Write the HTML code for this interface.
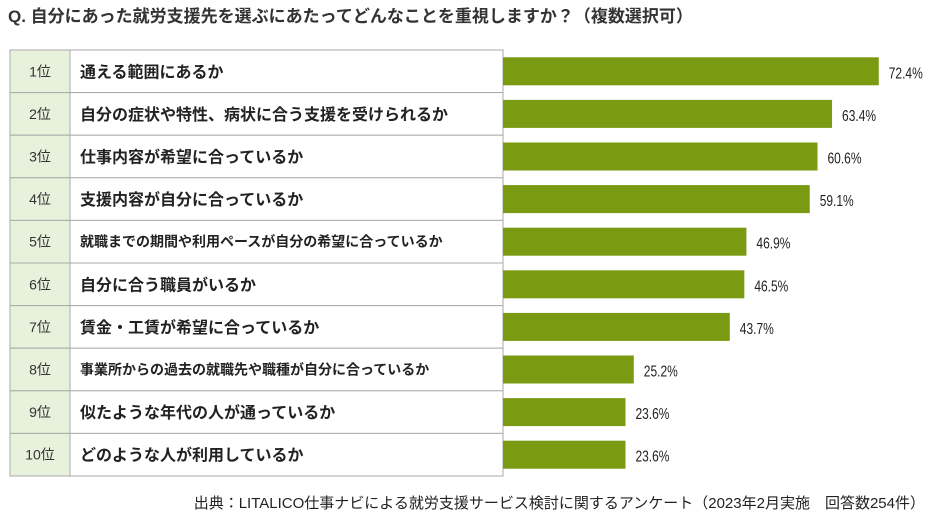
<!DOCTYPE html>
<html><head><meta charset="utf-8">
<style>
body{margin:0;width:931px;height:517px;background:#fff;font-family:"Liberation Sans","Noto Sans CJK JP",sans-serif;position:relative;overflow:hidden}
#title{position:absolute;left:8px;top:2px;font-size:17px;font-weight:bold;color:#333;white-space:nowrap}
#src{position:absolute;right:6px;top:492px;font-size:15px;color:#222;white-space:nowrap}
svg{position:absolute;left:0;top:0}
</style></head><body>
<div id="title">Q. 自分にあった就労支援先を選ぶにあたってどんなことを重視しますか？（複数選択可）</div>
<svg id="chart" width="931" height="517"></svg>
<div id="src">出典：LITALICO仕事ナビによる就労支援サービス検討に関するアンケート（2023年2月実施　回答数254件）</div>
<script>
const ranks=["1位","2位","3位","4位","5位","6位","7位","8位","9位","10位"];
const categories=["通える範囲にあるか","自分の症状や特性、病状に合う支援を受けられるか","仕事内容が希望に合っているか","支援内容が自分に合っているか","就職までの期間や利用ペースが自分の希望に合っているか","自分に合う職員がいるか","賃金・工賃が希望に合っているか","事業所からの過去の就職先や職種が自分に合っているか","似たような年代の人が通っているか","どのような人が利用しているか"];
const values=[72.4,63.4,60.6,59.1,46.9,46.5,43.7,25.2,23.6,23.6];
const NS="http://www.w3.org/2000/svg";
const svg=document.getElementById('chart');
const top0=50,rowH=42.6,left=10,rankW=60,tableR=503,barX=503,pxPer=5.19,barH=28;
const x=v=>barX+v*pxPer;
const y=i=>top0+i*rowH;
function mk(t,a){const e=document.createElementNS(NS,t);for(const k in a)e.setAttribute(k,a[k]);svg.appendChild(e);return e;}
categories.forEach((c,i)=>{
  const r=mk('rect',{x:left,y:y(i),width:rankW,height:rowH,fill:'#e8f1dc',stroke:'#aaa','stroke-width':1});
  
  
  const r2=mk('rect',{x:left+rankW,y:y(i),width:tableR-left-rankW,height:rowH,fill:'#fff',stroke:'#aaa','stroke-width':1});
  
  
  const t=mk('text',{x:left+rankW/2,y:y(i)+rowH/2+5,'text-anchor':'middle','font-size':14,fill:'#333'});
  t.textContent=ranks[i];
  
  
  const small=c.length>23;
  const t2=mk('text',{x:left+rankW+10,y:y(i)+rowH/2+(small?5:6),'font-size':small?14:16,'font-weight':'bold',fill:'#222'});
  t2.textContent=c;
  
  
  const b=mk('rect',{x:barX,y:y(i)+(rowH-barH)/2,width:x(values[i])-barX,height:barH,fill:'#7a9a12'});
  
  
  const v=mk('text',{x:x(values[i])+10,y:y(i)+rowH/2+7,'font-size':16,fill:'#222',textLength:34,lengthAdjust:'spacingAndGlyphs'});
  v.textContent=values[i].toFixed(1)+'%';
  
  
});
</script>
</body></html>
